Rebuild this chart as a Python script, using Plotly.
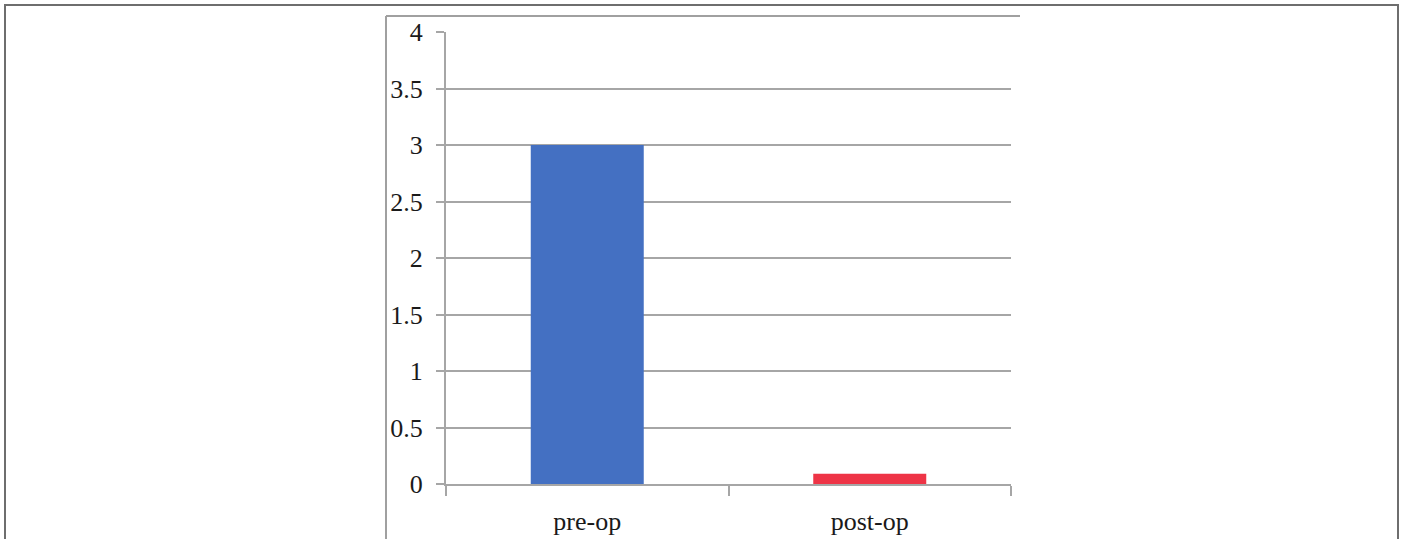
import plotly.graph_objects as go

categories = ["pre-op", "post-op"]
values = [3.0, 0.09]
bar_colors = ["#4470c2", "#ee3446"]
y_ticks = [0, 0.5, 1, 1.5, 2, 2.5, 3, 3.5, 4]
y_tick_labels = ["0", "0.5", "1", "1.5", "2", "2.5", "3", "3.5", "4"]

W, H = 1405, 539
L, R, T, B = 446, 1011, 32, 484


def px(x):
    return (x - L) / (R - L)


def py(y):
    return (B - y) / (B - T)


fig = go.Figure()
fig.add_trace(go.Bar(
    x=categories, y=values, width=0.4,
    marker=dict(color=bar_colors, line=dict(width=0)),
    showlegend=False,
))

font = dict(family="Liberation Serif, Times New Roman, serif", size=26, color="#1a1a1a")
grid_col = "#a6a6a6"

fig.update_layout(
    width=W, height=H,
    margin=dict(l=L, r=W - R, t=T, b=H - B, autoexpand=False),
    paper_bgcolor="white", plot_bgcolor="white",
    font=font,
    xaxis=dict(
        type="category", showgrid=False, zeroline=False, automargin=False,
        showline=True, linecolor=grid_col, linewidth=2,
        ticks="outside", ticklen=10, tickwidth=2, tickcolor=grid_col,
        tickson="boundaries", tickfont=font, ticklabelstandoff=13,
    ),
    yaxis=dict(
        range=[0, 4], tickvals=y_ticks, ticktext=y_tick_labels, automargin=False,
        showgrid=True, gridcolor=grid_col, gridwidth=1.5,
        zeroline=False, showline=True, linecolor=grid_col, linewidth=2,
        ticks="outside", ticklen=8, tickwidth=2, tickcolor=grid_col,
        tickfont=font, ticklabelstandoff=8,
    ),
    shapes=[
        dict(type="rect", xref="paper", yref="paper",
             x0=px(5), x1=px(1398), y0=py(560), y1=py(5),
             line=dict(color="#6e6e6e", width=2), layer="below"),
        dict(type="line", xref="paper", yref="paper",
             x0=px(386), x1=px(1020), y0=py(16), y1=py(16),
             line=dict(color="#a0a0a0", width=2)),
        dict(type="line", xref="paper", yref="paper",
             x0=px(386), x1=px(386), y0=py(16), y1=py(560),
             line=dict(color="#a0a0a0", width=2)),
    ],
)

fig.write_html("out.html", config={"displayModeBar": False},
               post_script="document.body.style.margin='0px';")
